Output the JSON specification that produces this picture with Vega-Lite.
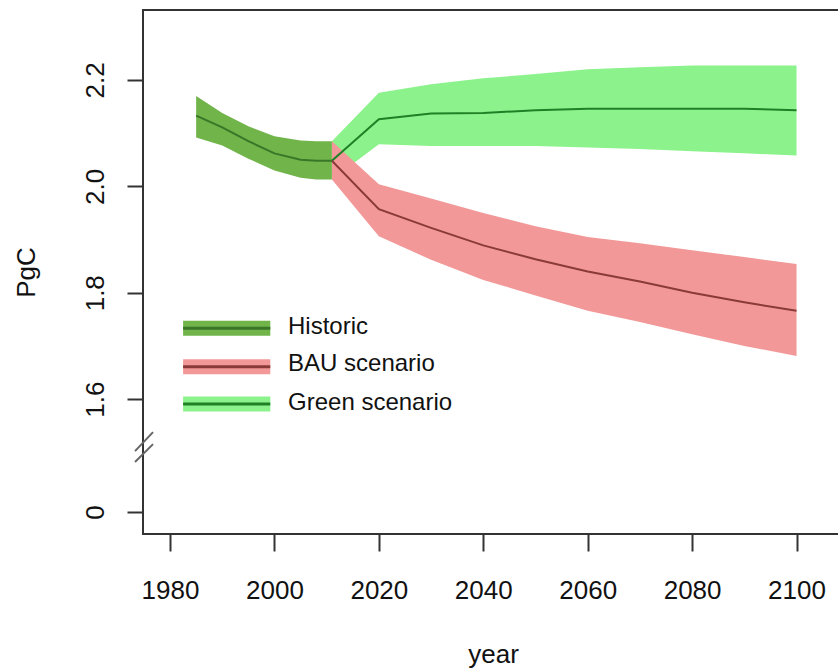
{
  "$schema": "https://vega.github.io/schema/vega-lite/v6.json",
  "autosize": "none",
  "width": 700,
  "height": 524,
  "padding": {"left": 143, "top": 10, "right": 0, "bottom": 137},
  "background": "white",
  "config": {
    "font": "Liberation Sans",
    "view": {"stroke": "#333", "strokeWidth": 2},
    "axis": {"grid": false, "domain": false, "tickColor": "#333", "tickWidth": 2, "labelColor": "#111", "titleColor": "#111", "titleFontWeight": "normal", "labelFontSize": 26, "titleFontSize": 26, "labelFont": "Liberation Sans", "titleFont": "Liberation Sans"}
  },
  "datasets": {
    "main": [
      {"series": "Green scenario", "year": 2011, "mean": 2.048, "lo": 2.013, "hi": 2.085},
      {"series": "Green scenario", "year": 2020, "mean": 2.126, "lo": 2.079, "hi": 2.176},
      {"series": "Green scenario", "year": 2030, "mean": 2.137, "lo": 2.076, "hi": 2.192},
      {"series": "Green scenario", "year": 2040, "mean": 2.138, "lo": 2.076, "hi": 2.203},
      {"series": "Green scenario", "year": 2050, "mean": 2.143, "lo": 2.076, "hi": 2.211},
      {"series": "Green scenario", "year": 2060, "mean": 2.146, "lo": 2.073, "hi": 2.220},
      {"series": "Green scenario", "year": 2070, "mean": 2.146, "lo": 2.070, "hi": 2.224},
      {"series": "Green scenario", "year": 2080, "mean": 2.146, "lo": 2.066, "hi": 2.227},
      {"series": "Green scenario", "year": 2090, "mean": 2.146, "lo": 2.062, "hi": 2.227},
      {"series": "Green scenario", "year": 2100, "mean": 2.143, "lo": 2.058, "hi": 2.227},
      {"series": "BAU scenario", "year": 2011, "mean": 2.048, "lo": 2.013, "hi": 2.085},
      {"series": "BAU scenario", "year": 2020, "mean": 1.957, "lo": 1.906, "hi": 2.004},
      {"series": "BAU scenario", "year": 2030, "mean": 1.922, "lo": 1.862, "hi": 1.977},
      {"series": "BAU scenario", "year": 2040, "mean": 1.889, "lo": 1.824, "hi": 1.950},
      {"series": "BAU scenario", "year": 2050, "mean": 1.863, "lo": 1.795, "hi": 1.925},
      {"series": "BAU scenario", "year": 2060, "mean": 1.840, "lo": 1.766, "hi": 1.905},
      {"series": "BAU scenario", "year": 2070, "mean": 1.821, "lo": 1.745, "hi": 1.893},
      {"series": "BAU scenario", "year": 2080, "mean": 1.800, "lo": 1.722, "hi": 1.880},
      {"series": "BAU scenario", "year": 2090, "mean": 1.782, "lo": 1.700, "hi": 1.867},
      {"series": "BAU scenario", "year": 2100, "mean": 1.766, "lo": 1.681, "hi": 1.854},
      {"series": "Historic", "year": 1985, "mean": 2.133, "lo": 2.092, "hi": 2.170},
      {"series": "Historic", "year": 1990, "mean": 2.111, "lo": 2.077, "hi": 2.138},
      {"series": "Historic", "year": 1995, "mean": 2.085, "lo": 2.052, "hi": 2.113},
      {"series": "Historic", "year": 2000, "mean": 2.062, "lo": 2.030, "hi": 2.094},
      {"series": "Historic", "year": 2005, "mean": 2.050, "lo": 2.016, "hi": 2.086},
      {"series": "Historic", "year": 2008, "mean": 2.048, "lo": 2.013, "hi": 2.085},
      {"series": "Historic", "year": 2011, "mean": 2.048, "lo": 2.013, "hi": 2.085}
    ]
  },
  "layer": [
    {
      "data": {"name": "main"},
      "mark": {"type": "area", "opacity": 1},
      "encoding": {
        "x": {"field": "year", "type": "quantitative", "scale": {"domain": [1974.82, 2108.9], "nice": false, "zero": false},
              "axis": {"values": [1980, 2000, 2020, 2040, 2060, 2080, 2100], "format": "d", "tickSize": 17, "labelPadding": 26, "title": "year", "titlePadding": 38}},
        "y": {"field": "lo", "type": "quantitative", "stack": null, "scale": {"domain": [1.3465, 2.3315], "nice": false, "zero": false},
              "axis": {"values": [1.388, 1.6, 1.8, 2.0, 2.2], "labelExpr": "datum.value < 1.5 ? '0' : format(datum.value, '.1f')", "labelAngle": -90, "labelAlign": "center", "labelBaseline": "alphabetic", "tickSize": 16, "labelPadding": 24, "title": "PgC", "titlePadding": 43}},
        "y2": {"field": "hi"},
        "color": {"field": "series", "type": "nominal", "legend": null,
                 "scale": {"domain": ["Historic", "BAU scenario", "Green scenario"], "range": ["#70b44a", "#f29898", "#8cf28c"]}}
      }
    },
    {
      "data": {"name": "main"},
      "mark": {"type": "line", "strokeWidth": 2},
      "encoding": {
        "x": {"field": "year", "type": "quantitative"},
        "y": {"field": "mean", "type": "quantitative"},
        "stroke": {"field": "series", "type": "nominal", "legend": null,
                   "scale": {"domain": ["Historic", "BAU scenario", "Green scenario"], "range": ["#3a7628", "#8b3a3a", "#1f8026"]}},
        "order": {"field": "year"}
      }
    },
    {
      "data": {"values": [{"s": 1}]},
      "layer": [
        {"mark": {"type": "rule", "strokeWidth": 15, "color": "#70b44a"}, "encoding": {"x": {"datum": 1982.5}, "x2": {"datum": 1999.2}, "y": {"datum": 1.7333}}},
        {"mark": {"type": "rule", "strokeWidth": 3, "color": "#3a7628"}, "encoding": {"x": {"datum": 1982.5}, "x2": {"datum": 1999.2}, "y": {"datum": 1.7333}}},
        {"mark": {"type": "text", "text": "Historic", "fontSize": 24, "align": "left", "baseline": "middle", "color": "#111", "dy": -1}, "encoding": {"x": {"datum": 2002.6}, "y": {"datum": 1.7333}}},
        {"mark": {"type": "rule", "strokeWidth": 15, "color": "#f29898"}, "encoding": {"x": {"datum": 1982.5}, "x2": {"datum": 1999.2}, "y": {"datum": 1.6610}}},
        {"mark": {"type": "rule", "strokeWidth": 3, "color": "#8b3a3a"}, "encoding": {"x": {"datum": 1982.5}, "x2": {"datum": 1999.2}, "y": {"datum": 1.6610}}},
        {"mark": {"type": "text", "text": "BAU scenario", "fontSize": 24, "align": "left", "baseline": "middle", "color": "#111", "dy": -3}, "encoding": {"x": {"datum": 2002.6}, "y": {"datum": 1.6610}}},
        {"mark": {"type": "rule", "strokeWidth": 15, "color": "#8cf28c"}, "encoding": {"x": {"datum": 1982.5}, "x2": {"datum": 1999.2}, "y": {"datum": 1.5910}}},
        {"mark": {"type": "rule", "strokeWidth": 3, "color": "#1f8026"}, "encoding": {"x": {"datum": 1982.5}, "x2": {"datum": 1999.2}, "y": {"datum": 1.5910}}},
        {"mark": {"type": "text", "text": "Green scenario", "fontSize": 24, "align": "left", "baseline": "middle", "color": "#111", "dy": -1}, "encoding": {"x": {"datum": 2002.6}, "y": {"datum": 1.5910}}},
        {"mark": {"type": "rule", "strokeWidth": 2, "color": "#666"}, "encoding": {"x": {"datum": 1973.29}, "x2": {"datum": 1976.74}, "y": {"datum": 1.5023}, "y2": {"datum": 1.538}}},
        {"mark": {"type": "rule", "strokeWidth": 2, "color": "#666"}, "encoding": {"x": {"datum": 1973.29}, "x2": {"datum": 1976.74}, "y": {"datum": 1.4817}, "y2": {"datum": 1.5155}}}
      ]
    }
  ]
}
